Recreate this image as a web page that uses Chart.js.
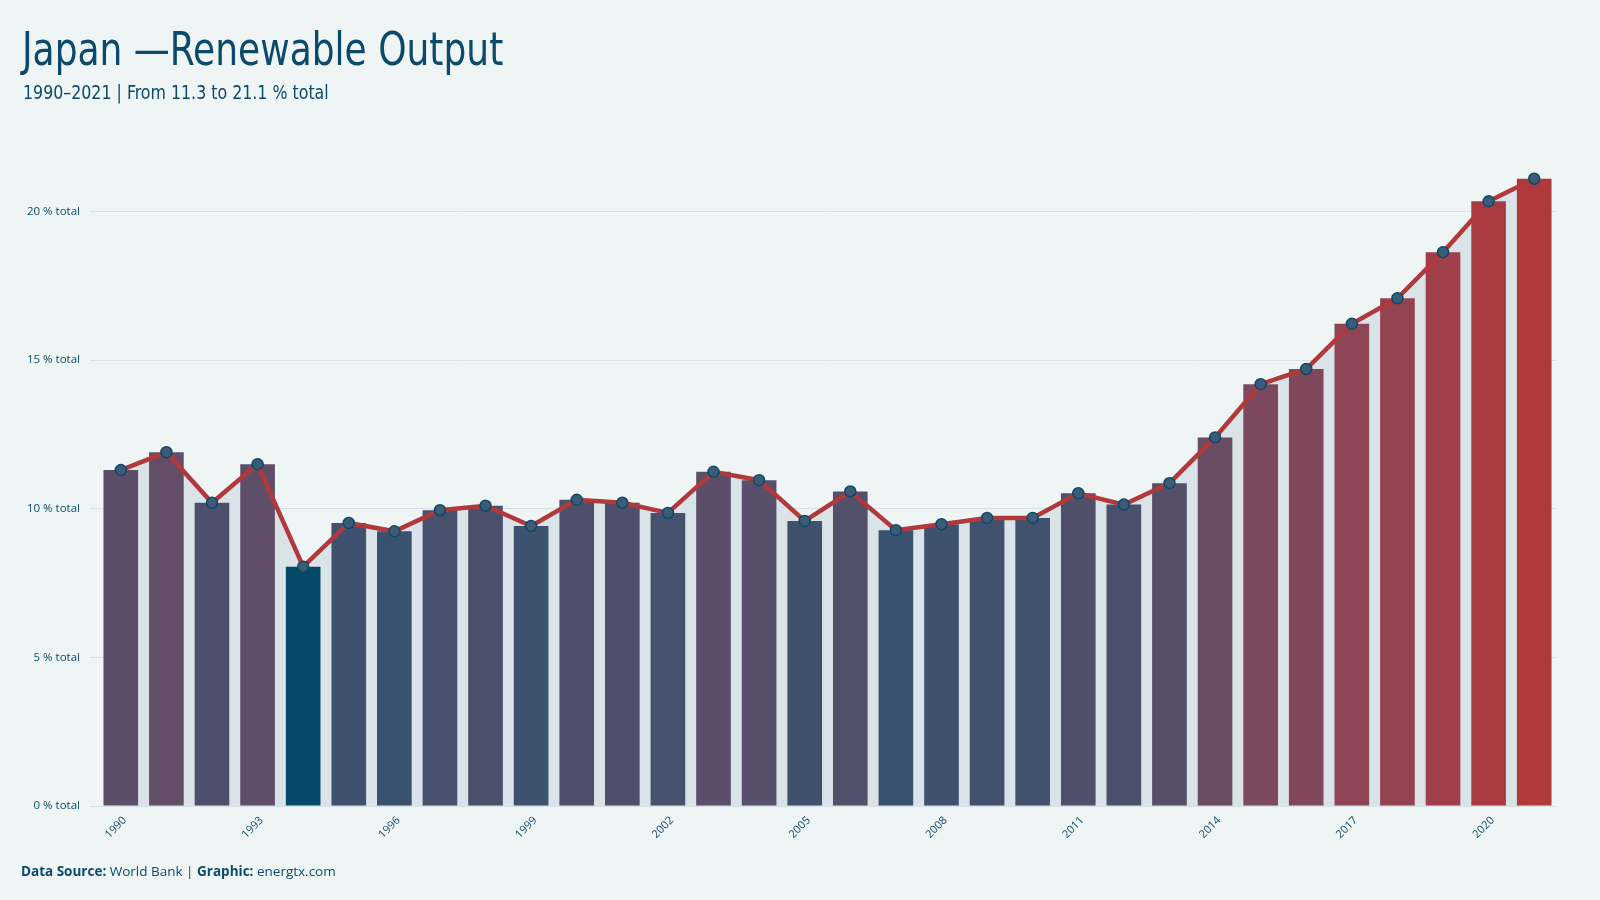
<!DOCTYPE html>
<html>
<head>
<meta charset="utf-8">
<script src="https://cdn.jsdelivr.net/npm/chart.js@4"></script>
<style>
  html, body { margin: 0; padding: 0; background: #eff5f5; }
  #wrap { position: relative; width: 1600px; height: 900px; overflow: hidden; }
  #title { position: absolute; left: 22px; top: 22px; font-family: 'DejaVu Sans Condensed', sans-serif; font-size: 46px; color: #0b4a6a; white-space: nowrap; transform: scaleX(0.87); transform-origin: 0 0; }
  #subtitle { position: absolute; left: 23px; top: 80px; font-family: 'DejaVu Sans Condensed', sans-serif; font-size: 20px; color: #0b4a6a; white-space: nowrap; transform: scaleX(0.88); transform-origin: 0 0; }
  #footer { position: absolute; left: 21px; top: 862px; font-family: 'Open Sans', sans-serif; font-size: 13.5px; color: #0b4a6a; white-space: nowrap; }
  #footer b { font-weight: 700; }
  #chartBox { position: absolute; left: 0; top: 0; width: 1600px; height: 900px; }
</style>
</head>
<body>
<div id="wrap">
  <div id="chartBox"><canvas id="myChart" width="1600" height="900"></canvas></div>
  <div id="title">Japan —Renewable Output</div>
  <div id="subtitle">1990–2021 | From 11.3 to 21.1 % total</div>
  <div id="footer"><b>Data Source:</b> World Bank | <b>Graphic:</b> energtx.com</div>
</div>
<script>
// Daten
const years = ['1990','1991','1992','1993','1994','1995','1996','1997','1998','1999',
  '2000','2001','2002','2003','2004','2005','2006','2007','2008','2009',
  '2010','2011','2012','2013','2014','2015','2016','2017','2018','2019','2020','2021'];
const renewableShare = [11.3, 11.9, 10.2, 11.5, 8.05, 9.52, 9.24, 9.95, 10.1, 9.42,
  10.3, 10.2, 9.86, 11.24, 10.96, 9.59, 10.58, 9.28, 9.48, 9.69,
  9.69, 10.52, 10.14, 10.86, 12.4, 14.19, 14.7, 16.22, 17.08, 18.63, 20.34, 21.1];
const yTicks = [0, 5, 10, 15, 20];

// Farbskala: Interpolation im linearen RGB von Blau nach Rot, Minimum hervorgehoben
const lowColor = [0, 84, 115];
const highColor = [176, 57, 59];
const minColor = '#034a68';
function toLin(c) { c /= 255; return c <= 0.04045 ? c / 12.92 : Math.pow((c + 0.055) / 1.055, 2.4); }
function toSrgb(c) { c = c <= 0.0031308 ? 12.92 * c : 1.055 * Math.pow(c, 1 / 2.4) - 0.055; return Math.round(Math.max(0, Math.min(1, c)) * 255); }
const vMin = Math.min(...renewableShare), vMax = Math.max(...renewableShare);
function barColor(v) {
  if (v === vMin) return minColor;
  const t = (v - vMin) / (vMax - vMin);
  const rgb = lowColor.map((c, i) => toSrgb(toLin(c) + (toLin(highColor[i]) - toLin(c)) * t));
  return 'rgb(' + rgb.join(',') + ')';
}

const ink = '#0b4a6a';
const ctx = document.getElementById('myChart').getContext('2d');
const myChart = new Chart(ctx, {
  data: {
    labels: years,
    datasets: [{
      type: 'line',
      order: 0,
      data: renewableShare,
      borderColor: '#b0393b',
      borderWidth: 4.5,
      backgroundColor: '#dae4e8',
      fill: 'origin',
      tension: 0,
      pointRadius: 5.5,
      pointBackgroundColor: '#3d5a76',
      pointBorderColor: ink,
      pointBorderWidth: 1.5
    }, {
      type: 'bar',
      order: 1,
      data: renewableShare,
      backgroundColor: renewableShare.map(barColor),
      categoryPercentage: 1,
      barPercentage: 0.76
    }]
  },
  options: {
    responsive: false,
    animation: false,
    layout: { padding: { left: 20, right: 43, top: 152, bottom: 54 } },
    plugins: {
      legend: { display: false },
      tooltip: { enabled: false },
      filler: { drawTime: 'beforeDatasetsDraw' }
    },
    scales: {
      x: {
        offset: true,
        grid: { display: false },
        border: { display: false },
        afterFit: s => { s.height = 40; },
        ticks: {
          autoSkip: false,
          maxRotation: 45,
          minRotation: 45,
          padding: 0,
          labelOffset: 4,
          color: ink,
          font: { family: "'Open Sans', sans-serif", size: 11 },
          callback: (v, i) => i % 3 === 0 ? years[i] : ''
        }
      },
      y: {
        min: 0,
        max: 22,
        afterFit: s => { s.width = 78; },
        afterBuildTicks: s => { s.ticks = yTicks.map(v => ({ value: v })); },
        border: { display: false },
        grid: { color: '#d6e1e5', lineWidth: 1, tickLength: 8, tickColor: '#d6e1e5' },
        ticks: {
          padding: 10,
          color: ink,
          font: { family: "'Open Sans', sans-serif", size: 11.5 },
          callback: v => v + ' % total'
        }
      }
    }
  }
});
</script>
</body>
</html>
